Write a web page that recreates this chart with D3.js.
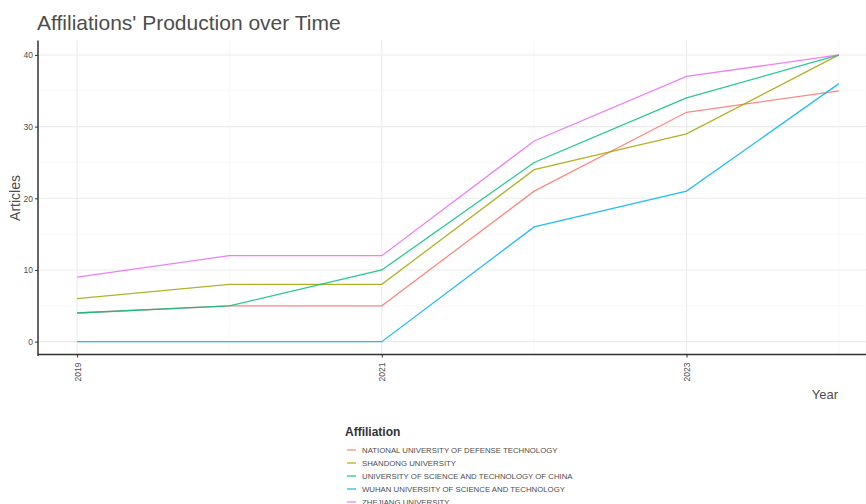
<!DOCTYPE html>
<html><head><meta charset="utf-8">
<script src="https://cdn.jsdelivr.net/npm/d3@7"></script>
<style>body{margin:0;background:#fff;}svg{display:block;font-family:"Liberation Sans",Arial,sans-serif;}</style>
</head><body>
<svg id="c" width="866" height="504"></svg>
<script>
const years = [2019, 2020, 2021, 2022, 2023, 2024];
const affiliations = [
  "NATIONAL UNIVERSITY OF DEFENSE TECHNOLOGY",
  "SHANDONG UNIVERSITY",
  "UNIVERSITY OF SCIENCE AND TECHNOLOGY OF CHINA",
  "WUHAN UNIVERSITY OF SCIENCE AND TECHNOLOGY",
  "ZHEJIANG UNIVERSITY"
];
const nudt = [4, 5, 5, 21, 32, 35];
const shandong = [6, 8, 8, 24, 29, 40];
const ustc = [4, 5, 10, 25, 34, 40];
const wuhan = [0, 0, 0, 16, 21, 36];
const zhejiang = [9, 12, 12, 28, 37, 40];
const colors = ["#F8766D", "#A3A500", "#00BF7D", "#00B0F6", "#E76BF3"];
const yTicks = [0, 10, 20, 30, 40];
const yMinor = [5, 15, 25, 35];
const xTicks = [2019, 2021, 2023];
const xMinor = [2020, 2022, 2024];

const seriesValues = [nudt, shandong, ustc, wuhan, zhejiang];
const svg = d3.select("#c");
const pLeft = 38, pTop = 40.6, pBottom = 356;
const x = d3.scaleLinear().domain([2018.75, 2024.25]).range([39, 877]);
const y = d3.scaleLinear().domain([-2, 42]).range([pBottom, pTop]);

// grid
const g = svg.append("g");
g.selectAll(".hmaj").data(yTicks).join("line")
  .attr("x1", pLeft).attr("x2", 866).attr("y1", d => y(d)).attr("y2", d => y(d))
  .attr("stroke", "#ebebeb").attr("stroke-width", 1.1);
g.selectAll(".hmin").data(yMinor).join("line")
  .attr("x1", pLeft).attr("x2", 866).attr("y1", d => y(d)).attr("y2", d => y(d))
  .attr("stroke", "#f3f3f3").attr("stroke-width", 0.6);
g.selectAll(".vmaj").data(xTicks).join("line")
  .attr("x1", d => x(d)).attr("x2", d => x(d)).attr("y1", pTop).attr("y2", pBottom)
  .attr("stroke", "#ebebeb").attr("stroke-width", 1.1);
g.selectAll(".vmin").data(xMinor).join("line")
  .attr("x1", d => x(d)).attr("x2", d => x(d)).attr("y1", pTop).attr("y2", pBottom)
  .attr("stroke", "#f3f3f3").attr("stroke-width", 0.6);

// lines
const line = d3.line().x((d, i) => x(years[i])).y(d => y(d));
seriesValues.forEach((vals, i) => {
  svg.append("path").datum(vals).attr("d", line)
    .attr("fill", "none").attr("stroke", colors[i]).attr("stroke-width", 1.3)
    .attr("stroke-opacity", 0.85);
});

// axes
const yAxis = d3.axisLeft(y).tickValues(yTicks).tickSize(3).tickPadding(2);
const ya = svg.append("g").attr("transform", `translate(${pLeft},0)`).call(yAxis);
ya.select(".domain").attr("stroke", "#333").attr("stroke-width", 1.5).attr("d", `M0,${pTop}V${pBottom}`);
ya.selectAll(".tick line").attr("stroke", "#333");
ya.selectAll(".tick text").attr("fill", "#4d4d4d").attr("font-size", 8.5).attr("font-family", "Liberation Sans, Arial, sans-serif");

const xAxis = d3.axisBottom(x).tickValues(xTicks).tickFormat(d3.format("d")).tickSize(3).tickPadding(2);
const xa = svg.append("g").attr("transform", `translate(0,${pBottom - 1.5})`).call(xAxis);
xa.select(".domain").attr("stroke", "#333").attr("stroke-width", 1.5).attr("d", `M${pLeft},0H866`);
xa.selectAll(".tick line").attr("stroke", "#333");
xa.selectAll(".tick text").attr("fill", "#4d4d4d").attr("font-size", 8.5)
  .attr("font-family", "Liberation Sans, Arial, sans-serif")
  .attr("transform", "rotate(-90)").attr("text-anchor", "end")
  .attr("x", -8).attr("y", 0).attr("dy", "0.35em");

// titles
svg.append("text").attr("x", 37).attr("y", 30).attr("font-size", 21)
  .attr("fill", "#4d4d4d").text("Affiliations' Production over Time");
svg.append("text").attr("transform", "translate(20,198) rotate(-90)")
  .attr("text-anchor", "middle").attr("font-size", 14).attr("fill", "#4d4d4d").text("Articles");
svg.append("text").attr("x", 838).attr("y", 399).attr("text-anchor", "end")
  .attr("font-size", 13).attr("fill", "#4d4d4d").text("Year");

// legend
const lg = svg.append("g").attr("transform", "translate(345,0)");
lg.append("text").attr("x", 0).attr("y", 436).attr("font-size", 12).attr("font-weight", "bold")
  .attr("fill", "#333").text("Affiliation");
affiliations.forEach((a, i) => {
  const yy = 450 + i * 13;
  lg.append("line").attr("x1", 2).attr("x2", 11).attr("y1", yy).attr("y2", yy)
    .attr("stroke", colors[i]).attr("stroke-width", 1.3).attr("stroke-opacity", 0.85);
  lg.append("text").attr("x", 17).attr("y", yy).attr("dy", "0.35em").attr("font-size", 7.8)
    .attr("fill", "#4d4d4d").text(a);
});
</script>
</body></html>
